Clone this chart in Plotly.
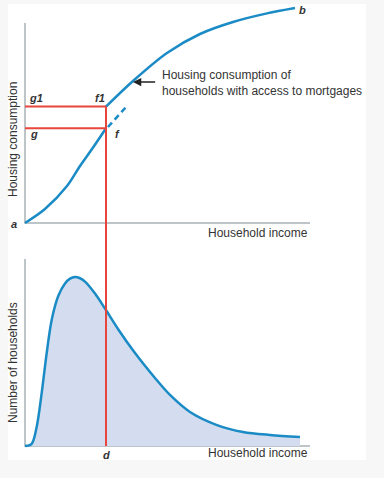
import plotly.graph_objects as go

# ---------------- data (income 0-100, housing 0-100, households 0-100) -------------
low_income = [0, 7.0, 14.74, 19.3, 24.0, 28.42]
low_housing = [0, 7.0, 18.5, 28.5, 38.0, 47.4]

mort_income = [28.42, 37.89, 49.82, 61.40, 72.98, 84.91, 94.74]
mort_housing = [58.2, 71.0, 85.0, 94.5, 100.5, 104.8, 107.5]

dash_income = [29.1, 36.1]
dash_housing = [48.0, 59.0]

d_income = 28.42
g_housing = 47.4
g1_housing = 58.2

dist_income = [0, 2.34, 4.09, 5.85, 7.61, 9.36, 11.7, 14.04, 15.8, 17.54, 19.3, 21.05,
               24.56, 28.07, 32.75, 38.6, 45.6, 50.88, 57.89, 67.37, 76.49, 85.96, 96.49]
dist_households = [0, 1.2, 10.2, 28.3, 49.7, 67.4, 80.3, 86.9, 89.5, 90.4, 89.7, 87.9,
                   81.5, 73.5, 62.3, 49.7, 36.4, 27.3, 18.2, 11.2, 7.5, 5.9, 4.8]

# ---------------- styling ----------------
W, H = 384, 478
BLUE = "#1a8bc5"
RED = "#e8453c"
FILL = "#d3ddef"
AXIS = "#a8b3b8"
TXT = "#333333"
FONT = "Liberation Sans, Arial, sans-serif"

# layout geometry (pixels)
split = 240
top_y0_px, top_y100_px = 223, 23
bot_y0_px, bot_y100_px = 446, 259
x0_px, x100_px = 25, 310

xs = (x100_px - x0_px) / 100.0
xr = [-x0_px / xs, (W - x0_px) / xs]
ts = (top_y0_px - top_y100_px) / 100.0
tyr = [(top_y0_px - split) / ts, top_y0_px / ts]
bs = (bot_y0_px - bot_y100_px) / 100.0
byr = [(bot_y0_px - H) / bs, (bot_y0_px - split) / bs]
dsplit = 1 - split / H

fig = go.Figure()

# axis lines
for xa, ya in (("x", "y"), ("x2", "y2")):
    fig.add_trace(go.Scatter(x=[0, 0, 100], y=[100, 0, 0], mode="lines",
                             line=dict(color=AXIS, width=1.5), xaxis=xa, yaxis=ya,
                             hoverinfo="skip"))

SPL = dict(color=BLUE, width=2.5, shape="spline", smoothing=0.9)

# bottom distribution
fig.add_trace(go.Scatter(x=dist_income, y=dist_households, mode="lines", line=SPL,
                         fill="tozeroy", fillcolor=FILL, xaxis="x2", yaxis="y2"))

# top curves
fig.add_trace(go.Scatter(x=low_income, y=low_housing, mode="lines", line=SPL,
                         xaxis="x", yaxis="y"))
fig.add_trace(go.Scatter(x=mort_income, y=mort_housing, mode="lines", line=SPL,
                         xaxis="x", yaxis="y"))
fig.add_trace(go.Scatter(x=dash_income, y=dash_housing, mode="lines",
                         line=dict(color=BLUE, width=2.5, dash="6px,4px"),
                         xaxis="x", yaxis="y"))

# red guide lines
fig.add_trace(go.Scatter(x=[0, d_income], y=[g1_housing, g1_housing], mode="lines",
                         line=dict(color=RED, width=2), xaxis="x", yaxis="y"))
fig.add_trace(go.Scatter(x=[0, d_income], y=[g_housing, g_housing], mode="lines",
                         line=dict(color=RED, width=2), xaxis="x", yaxis="y"))
fig.add_trace(go.Scatter(x=[d_income, d_income], y=[g1_housing, tyr[0]], mode="lines",
                         line=dict(color=RED, width=2), xaxis="x", yaxis="y"))
fig.add_trace(go.Scatter(x=[d_income, d_income], y=[0, byr[1]], mode="lines",
                         line=dict(color=RED, width=2), xaxis="x2", yaxis="y2"))

ann = []


def lab(text, x, y, ref="", size=11, **kw):
    d = dict(text=text, x=x, y=y, xref="x" + ref, yref="y" + ref, showarrow=False,
             font=dict(family=FONT, size=size, color=TXT))
    d.update(kw)
    ann.append(d)


def it(t):
    return "<b><i>" + t + "</i></b>"


lab(it("a"), -3.9, -0.5)
lab(it("b"), 97.4, 106.5)
lab(it("g1"), 3.9, 62.5)
lab(it("g"), 3.2, 44.5)
lab(it("f1"), 26.3, 62.5)
lab(it("f"), 32.6, 44.5)
lab(it("d"), d_income, -4.8, "2")
lab("Household income", 100, -5, size=12, xanchor="right")
lab("Household income", 100, -3.6, "2", size=12, xanchor="right")
lab("Housing consumption", -4.2, 41.5, size=12, textangle=-90)
lab("Number of households", -4.2, 44.4, "2", size=12, textangle=-90)
lab("Housing consumption of<br>households with access to mortgages", 47.4, 69.8,
    size=12, xanchor="left", align="left")
ann.append(dict(x=37.9, y=70.5, ax=46.2, ay=70.5, xref="x", yref="y", axref="x", ayref="y",
                text="", showarrow=True, arrowhead=2, arrowsize=1.1, arrowwidth=1.5,
                arrowcolor="#222222"))

ax_common = dict(showgrid=False, zeroline=False, showticklabels=False, showline=False,
                 ticks="", fixedrange=True)

fig.update_layout(
    width=W, height=H,
    margin=dict(l=0, r=0, t=0, b=0),
    paper_bgcolor="#f7f7f7",
    plot_bgcolor="rgba(0,0,0,0)",
    showlegend=False,
    xaxis=dict(domain=[0, 1], range=xr, anchor="y", **ax_common),
    yaxis=dict(domain=[dsplit, 1], range=tyr, anchor="x", **ax_common),
    xaxis2=dict(domain=[0, 1], range=xr, anchor="y2", **ax_common),
    yaxis2=dict(domain=[0, dsplit], range=byr, anchor="x2", **ax_common),
    annotations=ann,
    shapes=[dict(type="rect", xref="paper", yref="paper", layer="below",
                 x0=8 / W, x1=366 / W, y0=1 - 460 / H, y1=1 - 4 / H,
                 fillcolor="white", line=dict(width=0))],
)

fig.write_html("out.html", config={"displayModeBar": False},
               post_script="document.body.style.margin='0';document.body.style.overflow='hidden';")
